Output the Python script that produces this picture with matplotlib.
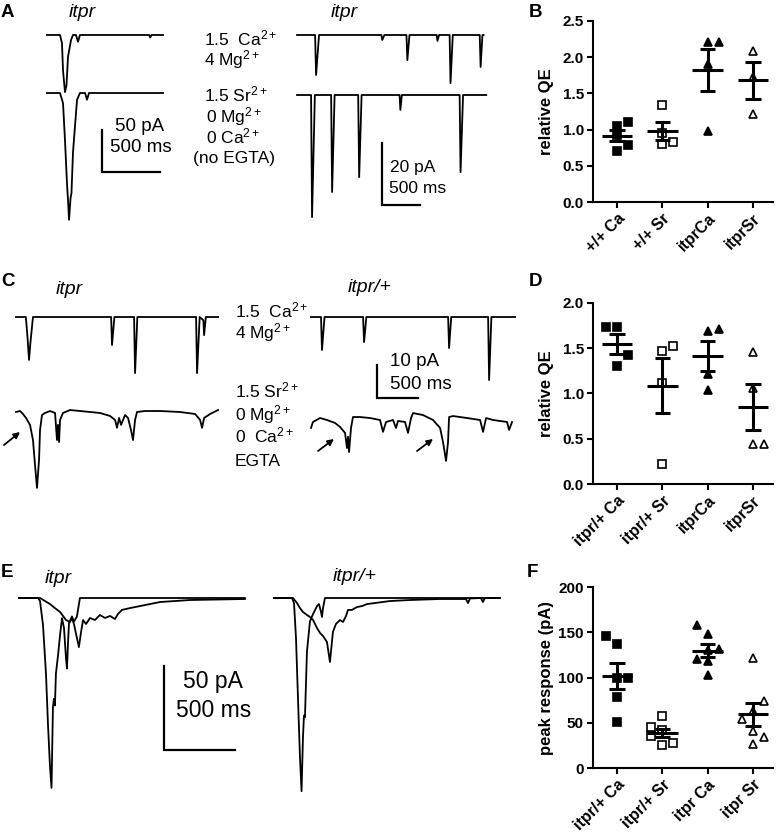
import numpy as np
import matplotlib
matplotlib.use('Agg')
import matplotlib.pyplot as plt

plt.rcParams['font.family'] = ['Liberation Sans', 'DejaVu Sans']
plt.rcParams['mathtext.fontset'] = 'custom'
plt.rcParams['mathtext.rm'] = 'Liberation Sans'
plt.rcParams['mathtext.it'] = 'Liberation Sans:italic'
plt.rcParams['mathtext.bf'] = 'Liberation Sans:bold'

# ---------------- traces: time (ms) / current (pA), baseline = 0 ----------------
# A, evoked (itpr), Ca and Sr
a_ev_ca_t = [0, 112, 129, 138, 155, 168, 181, 207, 224, 250, 267, 284, 880, 890, 900, 1000]
a_ev_ca_i = [0, 0, -9.5, -42, -68, -60, -26, -6, 0, 0, -8, 0, 0, -3, 0, 0]
a_ev_sr_t = [0, 112, 138, 155, 172, 181, 190, 203, 211, 224, 241, 259, 284, 328, 345, 362, 1000]
a_ev_sr_i = [0, 0, -12, -56, -107, -127, -151, -125, -119, -71, -40, -8, 0, 0, -8, 0, 0]

# A, minis (itpr)
a_mini_ca_t = [0, 238, 251, 290, 1110, 1122, 1150, 1440, 1452, 1480, 1838, 1848, 1870,
               2008, 2020, 2050, 2404, 2416, 2440, 2455]
a_mini_ca_i = [0, 0, -12.9, 0, 0, -1.6, 0, 0, -8.1, 0, 0, -1.9, 0, 0, -15.5, 0, 0, -10.3, 0, 0]
a_mini_sr_t = [0, 185, 198, 235, 449, 462, 495, 805, 818, 850, 1350, 1360, 1380,
               2140, 2152, 2185, 2490]
a_mini_sr_i = [0, 0, -39.4, 0, 0, -31.3, 0, 0, -26.5, 0, 0, -4.8, 0, 0, -24.9, 0, 0]

# C, minis itpr and itpr/+
c_itpr_ca_t = [0, 120, 140, 159, 175, 207, 1160, 1171, 1200, 1440, 1452, 1480,
               2196, 2208, 2240, 2285, 2294, 2315, 2464]
c_itpr_ca_i = [0, 0, -6, -13, -8, 0, 0, -8.5, 0, 0, -17, 0, 0, -17, 0, -1, -5.5, 0, 0]
c_het_ca_t = [0, 122, 134, 165, 635, 647, 675, 1672, 1684, 1710, 2160, 2172, 2200, 2489]
c_het_ca_i = [0, 0, -10, 0, 0, -7.6, 0, 0, -9.4, 0, 0, -19.1, 0, 0]
c_itpr_sr_t = [0, 49, 85, 122, 171, 207, 232, 256, 281, 293, 317, 354, 415, 476, 500, 512, 525,
               537, 573, 659, 781, 903, 1025, 1147, 1208, 1232, 1257, 1281, 1330, 1366, 1403,
               1427, 1452, 1476, 1574, 1757, 2001, 2184, 2245, 2269, 2294, 2367, 2464]
c_itpr_sr_i = [0, 0.3, -0.6, -1.8, -3.9, -8.5, -16.1, -23.0, -14.5, -5.5, -0.9, -0.3, 0.3,
               -0.3, -8.5, -3.9, -9.1, -2.4, -0.3, 0.6, 0.3, 0, -0.3, -1.2, -2.4, -4.8, -1.8,
               -3.9, -0.9, -1.8, -5.5, -8.5, -2.4, 0, 0.3, 0.3, 0, -0.6, -2.4, -4.8, -1.8,
               -0.6, 0.6]
c_het_sr_t = [0, 24, 110, 195, 293, 354, 415, 439, 451, 464, 488, 512, 598, 720, 842, 878, 915,
              1000, 1037, 1061, 1147, 1183, 1220, 1244, 1366, 1488, 1574, 1610, 1647, 1671,
              1684, 1732, 1903, 2062, 2098, 2135, 2220, 2391, 2416, 2452]
c_het_sr_i = [-2.4, -0.6, 0.6, 0, -0.9, -2.1, -3.9, -8.5, -5.1, -9.7, -2.4, 0.9, 0.9, 0.6, 0,
              -3.6, -0.6, 0, -2.4, -0.3, -0.6, -3.9, 0.6, 2.1, 1.5, 0, -2.4, -6.7, -12.4,
              -6.7, 0.9, 1.2, 0.6, 0, -3.6, 0.6, 0, -0.6, -3.0, -0.6]

# E, evoked: fast (Ca) and slow (Sr) responses, itpr and itpr/+
e_itpr_ca_t = [0, 134, 148, 169, 190, 204, 218, 229, 239, 246, 253, 260, 275, 289, 303, 317,
               331, 338, 345, 352, 373, 387, 408, 429, 1591]
e_itpr_ca_i = [0, 0, -1.8, -16, -45, -75, -100, -113, -65, -60, -64, -45, -34, -22, -12, -18,
               -36, -42, -27, -15, -11, -14, -11, 0, 0]
e_itpr_sr_t = [0, 148, 183, 218, 253, 289, 310, 331, 359, 373, 387, 408, 422, 436, 451, 472,
               500, 535, 570, 605, 641, 676, 697, 725, 781, 852, 922, 993, 1098, 1204, 1591]
e_itpr_sr_i = [0, 0, -1.8, -3.6, -6, -8.3, -10.7, -13.1, -14.3, -11.9, -15.5, -23.8, -29.2,
               -20.8, -13.1, -15.5, -11.9, -13.1, -10.1, -11.9, -10.7, -12.5, -9.5, -7.1, -6,
               -4.8, -3.6, -2.4, -1.8, -1.2, -0.6]
e_het_ca_t = [0, 127, 141, 155, 169, 183, 194, 204, 211, 218, 232, 253, 275, 303, 317, 331,
              338, 345, 359, 1591]
e_het_ca_i = [0, 0, -3, -24, -60, -95, -115, -83, -70, -71, -32, -14, -9.5, -4.8, -3.6, -8.3,
              -11.3, -6, 0, 0]
e_het_sr_t = [0, 134, 162, 183, 204, 232, 253, 275, 303, 324, 345, 373, 394, 415, 436, 465,
              486, 507, 521, 549, 584, 620, 655, 711, 817, 957, 1169, 1352, 1366, 1380, 1457,
              1471, 1485, 1591]
e_het_sr_i = [0, 0, -3, -6, -8.3, -10.1, -11.3, -13.1, -17.9, -20.8, -22.6, -26.2, -38.1,
              -20.2, -15.5, -13.1, -14.3, -10.7, -7.1, -7.1, -5.4, -4.8, -3.6, -3, -1.8, -1.2,
              -0.6, -0.6, -3, -0.3, 0, -2.4, 0, 0]

# ---------------- scatter data ----------------
b_names = ['+/+ Ca', '+/+ Sr', 'itprCa', 'itprSr']
b_wt_ca = [1.10, 1.05, 0.92, 0.79, 0.71]
b_wt_sr = [1.34, 0.95, 0.80, 0.835]
b_itpr_ca = [2.21, 2.21, 1.90, 0.98]
b_itpr_sr = [2.09, 1.73, 1.22]

d_names = ['itpr/+ Ca', 'itpr/+ Sr', 'itprCa', 'itprSr']
d_het_ca = [1.74, 1.74, 1.42, 1.30]
d_het_sr = [1.53, 1.47, 1.12, 0.22]
d_itpr_ca = [1.71, 1.69, 1.22, 1.04]
d_itpr_sr = [1.46, 1.06, 0.44, 0.44]

f_names = ['itpr/+ Ca', 'itpr/+ Sr', 'itpr Ca', 'itpr Sr']
f_het_ca = [146, 137, 100, 99, 79, 51]
f_het_sr = [57, 45, 42, 35, 28, 25]
f_itpr_ca = [158, 148, 131, 130, 120, 118, 103]
f_itpr_sr = [122, 74, 63, 54, 41, 34, 26]

# horizontal slot of each point (-1 left, 0 centre, 1 right), like the original layout
b_slots = [[1, 0, 0, 1, 0], [0, 0, 0, 1], [0, 1, 0, 0], [0, 0, 0]]
d_slots = [[-1, 0, 1, 0], [1, 0, 0, 0], [1, 0, 0, 0], [0, 0, 0, 1]]
f_slots = [[-1, 0, 0, 1, 0, 0], [0, -1, 0, -1, 1, 0], [-1, 0, 1, 0, -1, 0, 0],
           [0, 1, 0, -1, 0, 1, 0]]

W, H = 777, 838
fig = plt.figure(figsize=(W / 100, H / 100), dpi=100)


def trace_axes(ms_px, pa_px):
    # full figure axes, 1 pixel = ms_px ms horizontally and pa_px pA vertically
    ax = fig.add_axes([0, 0, 1, 1])
    ax.set_xlim(0, W * ms_px)
    ax.set_ylim(-H * pa_px, 0)
    ax.axis('off')
    return ax


def draw_trace(ax, sc, t, i, x0, y0, lw=1.3):
    ax.plot(np.array(t) + x0 * sc[0], np.array(i) - y0 * sc[1], color='black', lw=lw)


def scalebar(ax, sc, x, y, ms, pa):
    x0, y0 = x * sc[0], -y * sc[1]
    ax.plot([x0, x0, x0 + ms], [y0 + pa, y0, y0], color='black', lw=1.6,
            solid_joinstyle='miter')


# A
sc_a1 = (500 / 58, 50 / 42)
ax_a1 = trace_axes(*sc_a1)
draw_trace(ax_a1, sc_a1, a_ev_ca_t, a_ev_ca_i, 47, 35)
draw_trace(ax_a1, sc_a1, a_ev_sr_t, a_ev_sr_i, 47, 93)
scalebar(ax_a1, sc_a1, 102, 172, 500, 50)

sc_a2 = (500 / 38, 20 / 62)
ax_a2 = trace_axes(*sc_a2)
draw_trace(ax_a2, sc_a2, a_mini_ca_t, a_mini_ca_i, 297, 35)
draw_trace(ax_a2, sc_a2, a_mini_sr_t, a_mini_sr_i, 297, 95)
scalebar(ax_a2, sc_a2, 382, 205, 500, 20)

# C
sc_c = (500 / 41, 10 / 33)
ax_c = trace_axes(*sc_c)
draw_trace(ax_c, sc_c, c_itpr_ca_t, c_itpr_ca_i, 16, 317)
draw_trace(ax_c, sc_c, c_het_ca_t, c_het_ca_i, 311, 317)
draw_trace(ax_c, sc_c, c_itpr_sr_t, c_itpr_sr_i, 16, 412)
draw_trace(ax_c, sc_c, c_het_sr_t, c_het_sr_i, 311, 420)
scalebar(ax_c, sc_c, 377, 398, 500, 10)

# E
sc_e = (500 / 71, 50 / 84)
ax_e = trace_axes(*sc_e)
draw_trace(ax_e, sc_e, e_itpr_ca_t, e_itpr_ca_i, 19, 598)
draw_trace(ax_e, sc_e, e_itpr_sr_t, e_itpr_sr_i, 19, 598)
draw_trace(ax_e, sc_e, e_het_ca_t, e_het_ca_i, 274, 598)
draw_trace(ax_e, sc_e, e_het_sr_t, e_het_sr_i, 274, 598)
scalebar(ax_e, sc_e, 164, 750, 500, 50)

# text overlay in pixel coordinates
ov = fig.add_axes([0, 0, 1, 1])
ov.set_xlim(0, W)
ov.set_ylim(H, 0)
ov.axis('off')


def label(x, y, s, size=12.5, **kw):
    ov.text(x, y, s, fontsize=size, va='baseline', **kw)


for x, y, s in [(1, 17, 'A'), (529, 17, 'B'), (1, 286, 'C'), (529, 286, 'D'),
                (1, 577, 'E'), (527, 577, 'F')]:
    label(x, y, s, size=13.5, fontweight='bold')

label(82, 17, 'itpr', size=14, style='italic', ha='center')
label(344, 17, 'itpr', size=14, style='italic', ha='center')
label(69, 294, 'itpr', size=14, style='italic', ha='center')
label(370, 292, 'itpr/+', size=14, style='italic', ha='center')
label(58, 583, 'itpr', size=14, style='italic', ha='center')
label(355, 581, 'itpr/+', size=14, style='italic', ha='center')

for x, y, s in [(204, 45, '1.5  Ca$^{2+}$'), (204, 65, '4 Mg$^{2+}$'),
                (204, 101, '1.5 Sr$^{2+}$'), (206, 122, '0 Mg$^{2+}$'),
                (206, 143, '0 Ca$^{2+}$'), (193, 163, '(no EGTA)'),
                (235, 317, '1.5  Ca$^{2+}$'), (235, 338, '4 Mg$^{2+}$'),
                (235, 397, '1.5 Sr$^{2+}$'), (235, 420, '0 Mg$^{2+}$'),
                (235, 442, '0  Ca$^{2+}$'), (235, 466, 'EGTA')]:
    label(x, y, s, size=12.5)

label(115, 131, '50 pA', size=13.5)
label(110, 152, '500 ms', size=13.5)
label(390, 172, '20 pA', size=12.5)
label(389, 193, '500 ms', size=12.5)
label(390, 366, '10 pA', size=13.5)
label(390, 389, '500 ms', size=13.5)
label(183, 688, '50 pA', size=16.5)
label(176, 717, '500 ms', size=16.5)

for tail, head in [((4, 445), (20, 432)), ((318, 451), (334, 439)), ((417, 451), (433, 439))]:
    ov.annotate('', xy=head, xytext=tail,
                arrowprops=dict(arrowstyle='-|>', color='black', lw=1.3, mutation_scale=9,
                                shrinkA=0, shrinkB=0))


# ---------------- scatter panels ----------------
def scatter_panel(top, bottom, ymax, yticks, ylabel, names, groups, slots):
    left, right = 593, 773
    ax = fig.add_axes([left / W, 1 - bottom / H, (right - left) / W, (bottom - top) / H])
    markers = ['s', 's', '^', '^']
    faces = ['black', 'white', 'black', 'white']
    for k, vals in enumerate(groups):
        vals = np.array(vals, dtype=float)
        xs = k + 0.24 * np.array(slots[k])
        ax.plot(xs, vals, ls='none', marker=markers[k], ms=5.5 if k < 2 else 6,
                mfc=faces[k], mec='black', mew=1.2, clip_on=False, zorder=2)
        m = vals.mean()
        s = vals.std(ddof=1) / np.sqrt(len(vals))
        kw = dict(color='black', lw=2.2, solid_capstyle='butt', zorder=3)
        ax.plot([k - 0.34, k + 0.34], [m, m], **kw)
        ax.plot([k, k], [m - s, m + s], **kw)
        ax.plot([k - 0.17, k + 0.17], [m + s, m + s], **kw)
        ax.plot([k - 0.17, k + 0.17], [m - s, m - s], **kw)
    ax.set_xlim(-0.53, 3.44)
    ax.set_ylim(0, ymax)
    ax.set_yticks(yticks)
    ax.set_xticks(range(len(names)))
    ax.set_xticklabels(names, rotation=45, ha='right', rotation_mode='anchor',
                       fontweight='bold', fontsize=11.5)
    for lab in ax.get_yticklabels():
        lab.set_fontweight('bold')
        lab.set_fontsize(11)
    ax.set_ylabel(ylabel, fontweight='bold', fontsize=12)
    ax.yaxis.set_label_coords(-0.215, 0.5)
    for sp in ['top', 'right']:
        ax.spines[sp].set_visible(False)
    for sp in ['left', 'bottom']:
        ax.spines[sp].set_linewidth(1.5)
    ax.tick_params(direction='out', length=4.5, width=1.5, pad=2)
    ax.patch.set_visible(False)
    return ax


scatter_panel(21, 202, 2.5, [0, 0.5, 1.0, 1.5, 2.0, 2.5], 'relative QE', b_names,
              [b_wt_ca, b_wt_sr, b_itpr_ca, b_itpr_sr], b_slots)
scatter_panel(303, 484, 2.0, [0, 0.5, 1.0, 1.5, 2.0], 'relative QE', d_names,
              [d_het_ca, d_het_sr, d_itpr_ca, d_itpr_sr], d_slots)
scatter_panel(587, 768, 200, [0, 50, 100, 150, 200], 'peak response (pA)', f_names,
              [f_het_ca, f_het_sr, f_itpr_ca, f_itpr_sr], f_slots)

fig.savefig('out.png', dpi=100)
